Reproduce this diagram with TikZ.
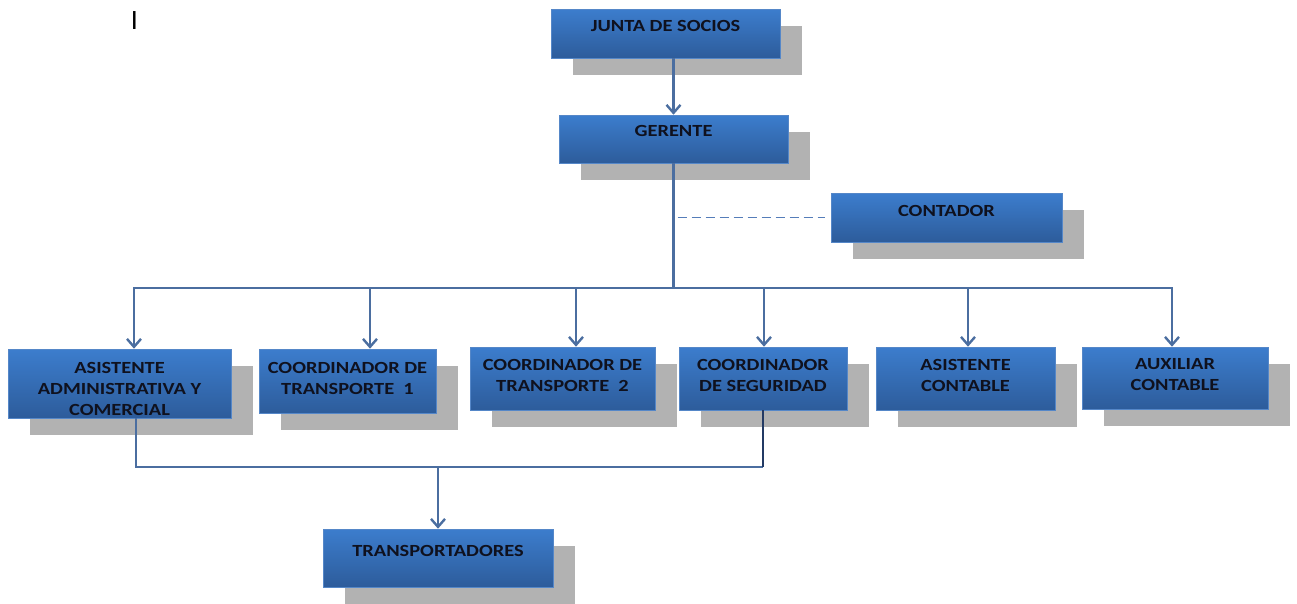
\documentclass[tikz,border=0pt]{standalone}
\usepackage{fontspec}
\setmainfont{Carlito}
\newfontfamily\orgfont[FakeStretch=1.2]{Carlito}
\usetikzlibrary{arrows.meta,shadows}
\definecolor{boxtop}{RGB}{60,125,205}
\definecolor{boxbot}{RGB}{45,92,155}
\definecolor{boxedge}{RGB}{85,135,200}
\definecolor{shadowgray}{RGB}{178,178,178}
\definecolor{linkblue}{RGB}{75,110,160}
\definecolor{linknavy}{RGB}{35,58,100}
\definecolor{dashblue}{RGB}{85,125,185}
\definecolor{textdark}{RGB}{15,17,30}
\begin{document}
\begin{tikzpicture}[x=1pt,y=-1pt,
	orgbox/.style={rectangle, draw=boxedge, line width=0.6pt, top color=boxtop, bottom color=boxbot, inner sep=0pt,
		general shadow={fill=shadowgray, shadow xshift=22pt, shadow yshift=-17pt}},
	txt/.style={anchor=north, yshift=-12pt, inner sep=0pt, align=center, text=textdark,
		font=\orgfont\bfseries\fontsize{17}{21}\selectfont},
	link/.style={draw=linkblue, line width=2.6pt},
	arr/.style={link, -{Straight Barb[length=8pt,width=14pt,line width=2.4pt]}},
	dashlink/.style={draw=dashblue, line width=1.4pt, dash pattern=on 9pt off 5pt}]
		\useasboundingbox (0,0) rectangle (1297,603);
		% top mark
		\node[inner sep=0pt, anchor=north, font=\fontsize{28}{28}\selectfont] (mark) at (134.5,11) {I};
		% boxes
		\node[orgbox, minimum width=229, minimum height=49, label={[txt, yshift=1pt]north:JUNTA DE SOCIOS}] (junta) at (665.5,33.5) {};
		\node[orgbox, minimum width=229, minimum height=48, label={[txt, yshift=2pt]north:GERENTE}] (gerente) at (673.5,139) {};
		\node[orgbox, minimum width=231, minimum height=49, label={[txt]north:CONTADOR}] (contador) at (946.5,217.5) {};
		\node[orgbox, minimum width=223, minimum height=69, label={[txt, yshift=-1pt]north:ASISTENTE\\ADMINISTRATIVA Y\\COMERCIAL}] (adm) at (119.5,383.5) {};
		\node[orgbox, minimum width=177, minimum height=64, label={[txt, yshift=-1pt]north:COORDINADOR DE\\TRANSPORTE\ \ 1}] (trans1) at (347.5,381) {};
		\node[orgbox, minimum width=185, minimum height=63, label={[txt]north:COORDINADOR DE\\TRANSPORTE\ \ 2}] (trans2) at (562.5,378.5) {};
		\node[orgbox, minimum width=168, minimum height=63, label={[txt]north:COORDINADOR\\DE SEGURIDAD}] (seg) at (763,378.5) {};
		\node[orgbox, minimum width=179, minimum height=63, label={[txt]north:ASISTENTE\\CONTABLE}] (asist) at (965.5,378.5) {};
		\node[orgbox, minimum width=186, minimum height=62, label={[txt]north:AUXILIAR\\CONTABLE}] (aux) at (1175,378) {};
		\node[orgbox, minimum width=230, minimum height=58, label={[txt, yshift=-4pt]north:TRANSPORTADORES}] (transp) at (438,558) {};
		% connectors
		\coordinate (bus) at (673.5,288);
		\coordinate (merge) at (438,467);
		\draw[arr] (junta.south -| gerente.north) -- (gerente.north);
		\draw[link] (gerente.south) -- (bus);
		\draw[dashlink] ([xshift=4pt]gerente.south |- contador.west) -- ([xshift=-6pt]contador.west);
		\draw[arr] (bus) -| ([xshift=14.5pt]adm.north);
		\draw[arr] (bus) -| ([xshift=22.5pt]trans1.north);
		\draw[arr] (bus) -| ([xshift=13.5pt]trans2.north);
		\draw[arr] (bus) -| ([xshift=1pt]seg.north);
		\draw[arr] (bus) -| ([xshift=2.5pt]asist.north);
		\draw[arr] (bus) -| ([xshift=-3pt]aux.north);
		\draw[link] ([xshift=16.5pt]adm.south) |- (seg.south |- merge);
		\draw[link, draw=linknavy] (seg.south) -- (seg.south |- merge);
		\draw[arr] (merge) -- (transp.north);
	\end{tikzpicture}
\end{document}
